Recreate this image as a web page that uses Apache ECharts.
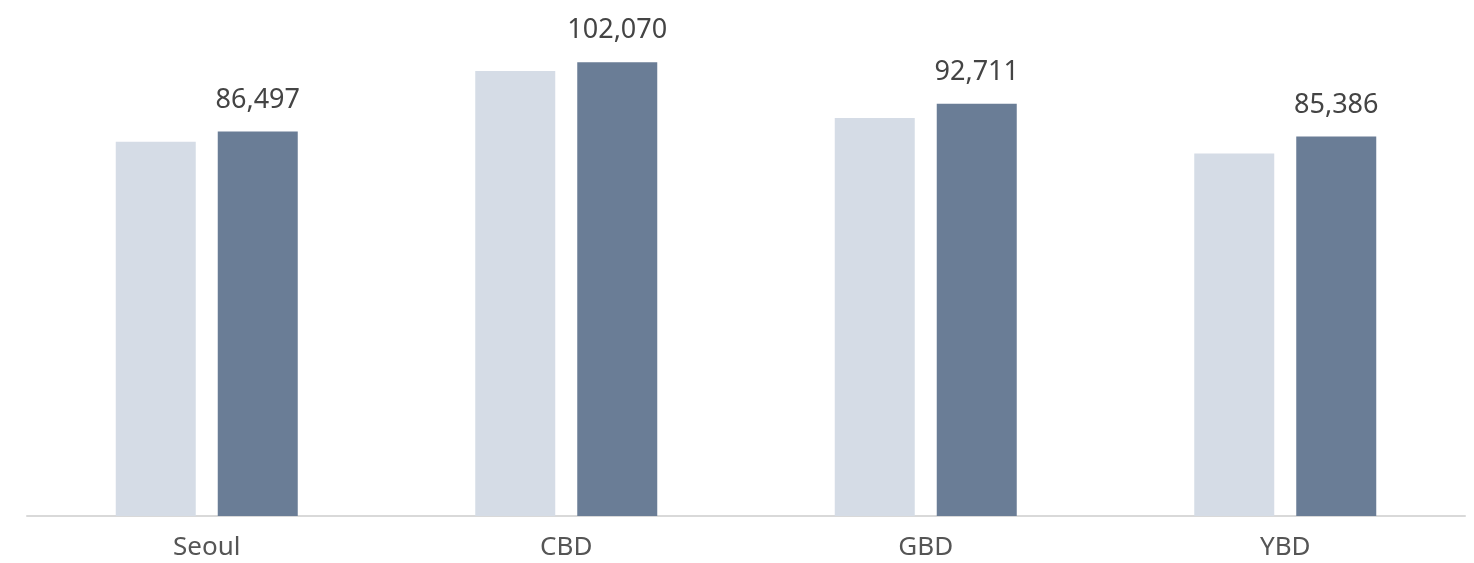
<!DOCTYPE html>
<html>
<head>
<meta charset="utf-8">
<script src="https://cdn.jsdelivr.net/npm/echarts@6/dist/echarts.min.js"></script>
<style>
  html, body { margin: 0; padding: 0; background: #ffffff; }
  #chart { width: 1474px; height: 563px; }
</style>
</head>
<body>
<div id="chart"></div>
<script>
// Districts on the x axis
const categories = ['Seoul', 'CBD', 'GBD', 'YBD'];
// Earlier period (light bars, unlabelled)
const previousValues = [84200, 100090, 89520, 81560];
// Latest period (dark bars, labelled)
const currentValues = [86497, 102070, 92711, 85386];

const chart = echarts.init(document.getElementById('chart'));
const font = '"Noto Sans", sans-serif';

chart.setOption({
  animation: false,
  grid: { left: 27, right: 9, top: 27, bottom: 47, containLabel: false },
  xAxis: {
    type: 'category',
    data: categories,
    axisLine: { lineStyle: { color: '#d9d9d9', width: 2 } },
    axisTick: { show: false },
    axisLabel: { color: '#555555', fontSize: 26, fontFamily: font, margin: 19 }
  },
  yAxis: {
    type: 'value',
    min: 0,
    max: 110000,
    show: false,
    splitLine: { show: false }
  },
  series: [
    {
      type: 'bar',
      data: previousValues,
      barWidth: 80,
      barGap: '27.5%',
      itemStyle: { color: '#d5dce6' }
    },
    {
      type: 'bar',
      data: currentValues,
      barWidth: 80,
      barGap: '27.5%',
      itemStyle: { color: '#6a7d96' },
      label: {
        show: true,
        position: 'top',
        distance: 18,
        color: '#444444',
        fontSize: 27,
        fontFamily: font,
        formatter: p => p.value.toLocaleString('en-US')
      }
    }
  ]
});
</script>
</body>
</html>
